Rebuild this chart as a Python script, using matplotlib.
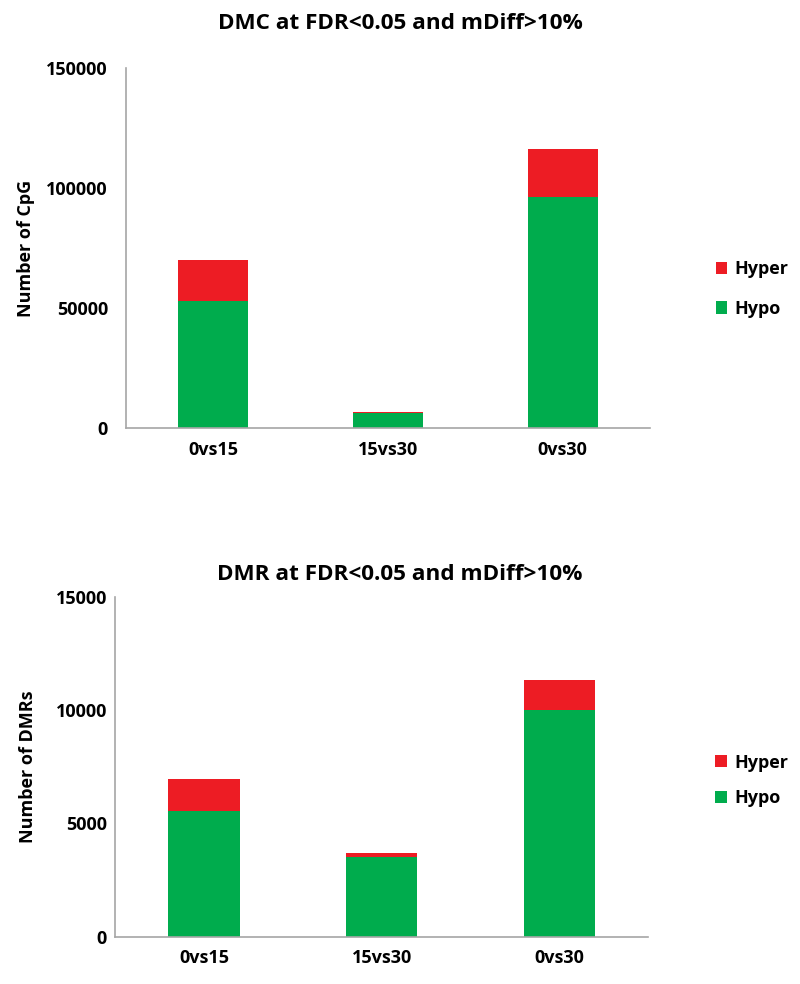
import matplotlib.pyplot as plt
import numpy as np

plt.rcParams['font.family'] = ['Open Sans', 'DejaVu Sans']
plt.rcParams['font.weight'] = 'bold'

groups = ['0vs15', '15vs30', '0vs30']

# DMC counts (number of CpG)
dmc_hypo = [52900, 6300, 96200]
dmc_hyper = [17200, 450, 20000]

# DMR counts
dmr_hypo = [5550, 3500, 10000]
dmr_hyper = [1400, 180, 1320]

red = '#ED1C24'
green = '#00AC4D'
axis_grey = '#A6A6A6'

fig = plt.figure(figsize=(8, 9.84), dpi=100)
ax1 = fig.add_axes([0.1575, 0.565, 0.655, 0.366])
ax2 = fig.add_axes([0.144, 0.048, 0.666, 0.3455])


def draw(ax, hypo, hyper, title, ylabel, ymax, step,
         title_x, title_pad, ypad, label_x, legend_x, legend_y, spacing):
    x = np.arange(len(groups))
    b1 = ax.bar(x, hypo, width=0.4, color=green, label='Hypo')
    b2 = ax.bar(x, hyper, width=0.4, bottom=hypo, color=red, label='Hyper')
    ax.set_xlim(-0.5, 2.5)
    ax.set_ylim(0, ymax)
    ax.set_yticks(np.arange(0, ymax + 1, step))
    ax.set_xticks(x)
    ax.set_xticklabels(groups)
    for s in ['top', 'right']:
        ax.spines[s].set_visible(False)
    for s in ['left', 'bottom']:
        ax.spines[s].set_color(axis_grey)
        ax.spines[s].set_linewidth(1.2)
    ax.tick_params(length=0, labelsize=13)
    ax.tick_params(axis='x', pad=9)
    ax.tick_params(axis='y', pad=ypad)
    for lbl in ax.get_xticklabels() + ax.get_yticklabels():
        lbl.set_fontweight('bold')
    ax.set_title(title, fontsize=16.2, fontweight='bold', pad=title_pad,
                 x=title_x)
    ax.set_ylabel(ylabel, fontsize=13, fontweight='bold')
    ax.yaxis.set_label_coords(label_x, 0.5)
    ax.legend([b2, b1], ['Hyper', 'Hypo'], loc='center left',
              bbox_to_anchor=(legend_x, legend_y), frameon=False,
              handlelength=0.65, handleheight=0.65, handletextpad=0.4,
              labelspacing=spacing, prop={'size': 13, 'weight': 'bold'})


draw(ax1, dmc_hypo, dmc_hyper, 'DMC at FDR<0.05 and mDiff>10%',
     'Number of CpG', 150000, 50000,
     0.523, 28, 13, -0.174, 1.094, 0.386, 1.2)
draw(ax2, dmr_hypo, dmr_hyper, 'DMR at FDR<0.05 and mDiff>10%',
     'Number of DMRs', 15000, 5000,
     0.535, 12, 6, -0.146, 1.096, 0.46, 0.95)

fig.savefig('out.png', dpi=100)
